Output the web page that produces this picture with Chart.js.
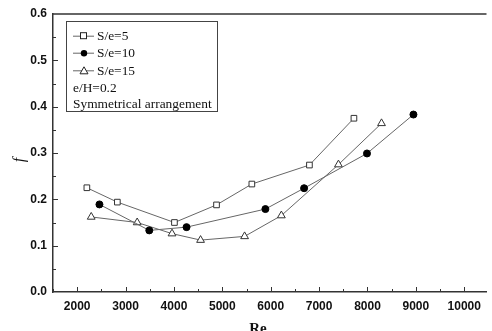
<!DOCTYPE html>
<html><head><meta charset="utf-8">
<script src="https://cdn.jsdelivr.net/npm/chart.js@4/dist/chart.umd.min.js"></script>
<style>html,body{margin:0;padding:0;background:#fff;}#wrap{width:492px;height:331px;}</style>
</head><body><div id="wrap"><canvas id="c" width="492" height="331"></canvas></div>
<script>
const re5 = [2200, 2830, 4010, 4880, 5610, 6800, 7720];
const f5 = [0.225, 0.194, 0.150, 0.188, 0.233, 0.274, 0.375];
const re10 = [2460, 3490, 4260, 5890, 6690, 7990, 8950];
const f10 = [0.189, 0.133, 0.140, 0.179, 0.224, 0.299, 0.383];
const re15 = [2290, 3240, 3960, 4550, 5460, 6220, 7400, 8290];
const f15 = [0.162, 0.150, 0.126, 0.112, 0.120, 0.165, 0.275, 0.364];
const xTicks = [2000, 3000, 4000, 5000, 6000, 7000, 8000, 9000, 10000];
const yTicks = [0.0, 0.1, 0.2, 0.3, 0.4, 0.5, 0.6];
const seriesNames = ['S/e=5', 'S/e=10', 'S/e=15'];
const legendNotes = ['e/H=0.2', 'Symmetrical arrangement'];
const xTitle = 'Re';
const yTitle = 'f';

const toPts = (xs, ys) => xs.map((x, i) => ({x: x, y: ys[i]}));
const axisColor = '#333';
const lineColor = '#666';

const ds = [
  {label: seriesNames[0], data: toPts(re5, f5), pointStyle: 'rect', pointRadius: 4, backgroundColor: '#fff', borderColor: lineColor, pointBorderColor: '#333', pointBackgroundColor: '#fff'},
  {label: seriesNames[1], data: toPts(re10, f10), pointStyle: 'circle', pointRadius: 3.5, backgroundColor: '#000', borderColor: lineColor, pointBorderColor: '#000', pointBackgroundColor: '#000'},
  {label: seriesNames[2], data: toPts(re15, f15), pointStyle: 'triangle', pointRadius: 4.5, backgroundColor: '#fff', borderColor: lineColor, pointBorderColor: '#333', pointBackgroundColor: '#fff'}
].map(d => Object.assign(d, {showLine: true, borderWidth: 1, pointBorderWidth: 1, tension: 0}));

const deco = {
  id: 'deco',
  afterDraw(chart) {
    const ctx = chart.ctx, a = chart.chartArea;
    const xs = chart.scales.x, ys = chart.scales.y;
    ctx.save();
    ctx.strokeStyle = axisColor;
    ctx.lineWidth = 1.5;
    ctx.beginPath(); ctx.moveTo(a.left, a.top); ctx.lineTo(a.right, a.top); ctx.stroke();
    ctx.lineWidth = 1;
    for (let v = 1500; v <= 10000; v += 500) {
      const px = Math.round(xs.getPixelForValue(v)) + 0.5;
      const len = (v % 1000 === 0) ? 5 : 3;
      ctx.beginPath(); ctx.moveTo(px, a.bottom); ctx.lineTo(px, a.bottom - len); ctx.stroke();
    }
    for (let k = 1; k <= 11; k++) {
      const v = k * 0.05;
      const py = Math.round(ys.getPixelForValue(v)) + 0.5;
      const len = (k % 2 === 0) ? 5 : 3;
      ctx.beginPath(); ctx.moveTo(a.left, py); ctx.lineTo(a.left + len, py); ctx.stroke();
    }
    const lx = 66, ly = 21, lw = 151, lh = 90;
    ctx.fillStyle = '#fff';
    ctx.fillRect(lx, ly, lw, lh);
    ctx.strokeStyle = '#444';
    ctx.strokeRect(lx + 0.5, ly + 0.5, lw, lh);
    ctx.font = '13.4px "Liberation Serif", "Times New Roman", serif';
    ctx.textBaseline = 'middle';
    ctx.fillStyle = '#111';
    const rows = [35.7, 52.7, 70.3, 87.3, 103.7];
    for (let i = 0; i < 3; i++) {
      const y = rows[i];
      ctx.strokeStyle = lineColor; ctx.lineWidth = 1;
      ctx.beginPath(); ctx.moveTo(73, y + 0.5); ctx.lineTo(94, y + 0.5); ctx.stroke();
      ctx.strokeStyle = '#222';
      if (i === 0) {
        ctx.fillStyle = '#fff'; ctx.fillRect(80.5, y - 3, 6, 6); ctx.strokeRect(80.5, y - 3, 6, 6);
      } else if (i === 1) {
        ctx.fillStyle = '#000'; ctx.beginPath(); ctx.arc(84, y + 0.5, 3.2, 0, Math.PI * 2); ctx.fill();
      } else {
        ctx.fillStyle = '#fff'; ctx.beginPath(); ctx.moveTo(84, y - 3.5); ctx.lineTo(88, y + 3.5); ctx.lineTo(80, y + 3.5); ctx.closePath(); ctx.fill(); ctx.stroke();
      }
      ctx.fillStyle = '#111';
      ctx.fillText(seriesNames[i], 97, y + 1);
    }
    ctx.fillText(legendNotes[0], 73, rows[3] + 1);
    ctx.fillText(legendNotes[1], 73, rows[4] + 1);
    ctx.fillStyle = '#111';
    ctx.font = 'bold 15px "Liberation Serif", "Times New Roman", serif';
    ctx.textAlign = 'center'; ctx.textBaseline = 'alphabetic';
    ctx.fillText(xTitle, 258, 333);
    ctx.save();
    ctx.translate(20, 160); ctx.rotate(-Math.PI / 2);
    ctx.font = 'italic 16px "Liberation Serif", "Times New Roman", serif';
    ctx.textBaseline = 'middle';
    ctx.fillText(yTitle, 0, 0);
    ctx.restore();
    ctx.restore();
  }
};

new Chart(document.getElementById('c'), {
  type: 'scatter',
  data: {datasets: ds},
  plugins: [deco],
  options: {
    responsive: false,
    animation: false,
    devicePixelRatio: 1,
    layout: {padding: {top: 14, right: 0, left: 0, bottom: 0}},
    plugins: {legend: {display: false}, tooltip: {enabled: false}},
    scales: {
      x: {
        type: 'linear', min: 1500, max: 10460,
        afterBuildTicks: s => { s.ticks = xTicks.map(v => ({value: v})); },
        afterFit: s => { s.height = 39; },
        grid: {display: false, drawTicks: false},
        border: {display: true, color: axisColor, width: 1.5},
        ticks: {padding: 7, color: '#111', font: {family: '"Liberation Sans", Arial, sans-serif', weight: 'bold', size: 12}, callback: v => String(v)}
      },
      y: {
        type: 'linear', min: 0, max: 0.6,
        afterBuildTicks: s => { s.ticks = yTicks.map(v => ({value: v})); },
        afterFit: s => { s.width = 53; },
        grid: {display: false, drawTicks: false},
        border: {display: true, color: axisColor, width: 1.5},
        ticks: {padding: 6, color: '#111', font: {family: '"Liberation Sans", Arial, sans-serif', weight: 'bold', size: 12}, callback: v => v.toFixed(1)}
      }
    }
  }
});
</script></body></html>
